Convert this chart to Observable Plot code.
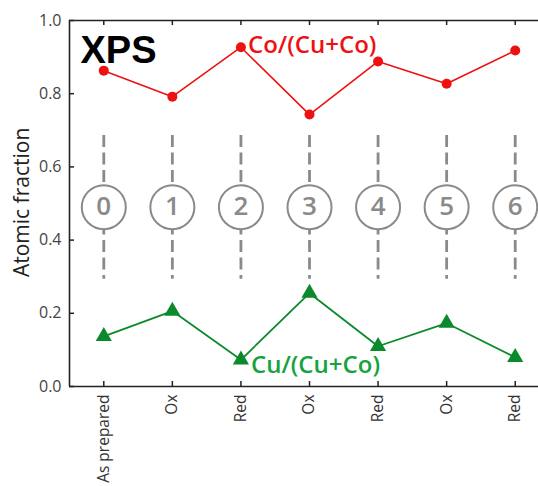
<!DOCTYPE html>
<html><head><meta charset="utf-8">
<script src="https://cdn.jsdelivr.net/npm/d3@7"></script>
<script src="https://cdn.jsdelivr.net/npm/@observablehq/plot@0.6"></script>
<style>body{margin:0;background:#fff}</style>
</head><body><div id="chart"></div>
<script>
const steps = [0, 1, 2, 3, 4, 5, 6];
const stepLabels = ["As prepared", "Ox", "Red", "Ox", "Red", "Ox", "Red"];
const coFraction = [0.863, 0.792, 0.927, 0.743, 0.888, 0.827, 0.918];
const cuFraction = [0.137, 0.206, 0.073, 0.255, 0.110, 0.173, 0.080];
const yTicks = [0, 0.2, 0.4, 0.6, 0.8, 1.0];

const W = 538, H = 486, mL = 69, mT = 20, mB = 100, mR = 0;
const plotW = W - mL - mR, plotH = H - mT - mB;
const RED = "#ee1111", GREEN = "#0b8a2c", GREEN_TXT = "#16a23c", GRAY = "#8a8a8a";
const FONT = "'Open Sans', sans-serif";

const co = steps.map(i => ({step: i, v: coFraction[i]}));
const cu = steps.map(i => ({step: i, v: cuFraction[i]}));

const chart = Plot.plot({
  width: W, height: H,
  marginLeft: mL, marginTop: mT, marginBottom: mB, marginRight: mR,
  style: {fontFamily: FONT, background: "#fff"},
  x: {type: "linear", domain: [-0.5, 6.5], range: [mL, 549]},
  y: {domain: [0, 1]},
  marks: [
    // dashed guide lines
    Plot.ruleX(steps, {x: d => d, y1: 0.686, y2: 0.293, stroke: GRAY, strokeWidth: 2.8, strokeDasharray: "12,5.5"}),
    Plot.dot(steps, {x: d => d, y: 0.49, r: 22, fill: "white", stroke: GRAY, strokeWidth: 2}),
    Plot.text(steps, {x: d => d, y: 0.49, text: d => String(d), fontSize: 26, fontWeight: 600, fill: GRAY, fontFamily: FONT}),
    // frame
    Plot.ruleY([0, 1], {stroke: "#222", strokeWidth: 1.6}),
    Plot.ruleX([-0.5], {stroke: "#222", strokeWidth: 1.6}),
    // inward ticks
    Plot.tickX(steps, {x: d => d, insetTop: plotH - 5, stroke: "#222", strokeWidth: 1.5}),
    Plot.tickX(steps, {x: d => d, insetBottom: plotH - 5, stroke: "#222", strokeWidth: 1.5}),
    Plot.tickY(yTicks, {y: d => d, insetRight: plotW - 5, stroke: "#222", strokeWidth: 1.5}),
    // axes
    Plot.axisY(yTicks, {tickSize: 0, tickPadding: 8, tickFormat: d => d.toFixed(1), fontSize: 16, fill: "#444", label: null}),
    Plot.axisX(steps, {tickSize: 0, tickPadding: 8, tickRotate: -90, tickFormat: i => stepLabels[i], fontSize: 15.5, fill: "#333", label: null}),
    Plot.text(["Atomic fraction"], {x: -1.185, y: 0.503, rotate: -90, textAnchor: "middle", fontSize: 21, fill: "#222", fontFamily: FONT}),
    // series
    Plot.line(co, {x: "step", y: "v", stroke: RED, strokeWidth: 1.6}),
    Plot.dot(co, {x: "step", y: "v", r: 5, fill: RED}),
    Plot.line(cu, {x: "step", y: "v", stroke: GREEN, strokeWidth: 1.8}),
    Plot.dot(cu, {x: "step", y: "v", r: 6, symbol: "triangle", fill: GREEN}),
    // annotations
    Plot.text(["XPS"], {frameAnchor: "top-left", dx: 11, dy: 16, fontSize: 38, fontWeight: "bold", fill: "#000", textAnchor: "start", fontFamily: "'Liberation Sans', Arial, sans-serif"}),
    Plot.text(["Co/(Cu+Co)"], {x: 2, y: 0.927, dx: 7, dy: -2, textAnchor: "start", fontSize: 24, fontWeight: 600, fill: RED, fontFamily: FONT}),
    Plot.text(["Cu/(Cu+Co)"], {x: 2, y: 0.073, dx: 10, dy: 6, textAnchor: "start", fontSize: 24, fontWeight: 600, fill: GREEN_TXT, fontFamily: FONT})
  ]
});
document.getElementById("chart").appendChild(chart);
</script>
</body></html>
